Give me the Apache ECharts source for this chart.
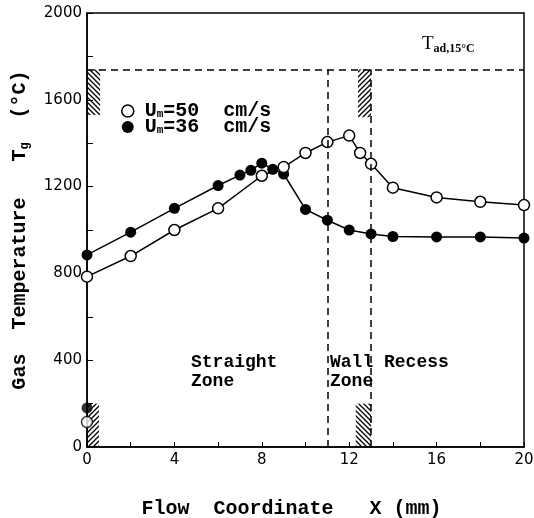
<!DOCTYPE html>
<html>
<head>
<meta charset="utf-8">
<script src="https://cdn.jsdelivr.net/npm/echarts@6/dist/echarts.min.js"></script>
<style>
  html, body { margin: 0; padding: 0; background: #fff; }
  #main { width: 534px; height: 518px; }
</style>
</head>
<body>
<div id="main"></div>
<script>
// flow coordinate (mm) and gas temperature (degC)
var xOpen = [0, 2, 4, 6, 8, 9, 10, 11, 12, 12.5, 13, 14, 16, 18, 20];
var tOpen = [785, 880, 1000, 1100, 1250, 1290, 1355, 1405, 1435, 1355, 1305, 1195, 1150, 1130, 1115];
var xFilled = [0, 2, 4, 6, 7, 7.5, 8, 8.5, 9, 10, 11, 12, 13, 14, 16, 18, 20];
var tFilled = [885, 990, 1100, 1205, 1253, 1275, 1308, 1280, 1258, 1095, 1045, 1000, 982, 970, 968, 968, 963];
// inlet temperatures
var inletOpen = [0, 115];
var inletFilled = [0, 180];
// adiabatic flame temperature and zone borders
var tAd = 1740;
var zoneX = [11, 13];
var xTicks = [0, 4, 8, 12, 16, 20];
var yTicks = [0, 400, 800, 1200, 1600, 2000];

function zip(xs, ys) {
    return xs.map(function (x, i) { return [x, ys[i]]; });
}

function hatch(dir) {
    var c = document.createElement('canvas');
    c.width = 5; c.height = 5;
    var g = c.getContext('2d');
    g.strokeStyle = '#000';
    g.lineWidth = 1.3;
    g.beginPath();
    if (dir > 0) {
        g.moveTo(-1, 6); g.lineTo(6, -1);
        g.moveTo(-3, 3); g.lineTo(3, -3);
        g.moveTo(2, 8); g.lineTo(8, 2);
    } else {
        g.moveTo(-1, -1); g.lineTo(6, 6);
        g.moveTo(-3, 2); g.lineTo(3, 8);
        g.moveTo(2, -3); g.lineTo(8, 3);
    }
    g.stroke();
    return { image: c, repeat: 'repeat' };
}
var hatchUp = hatch(1), hatchDown = hatch(-1);

var chart = echarts.init(document.getElementById('main'));
var mono = '"Liberation Mono", monospace';

var option = {
    backgroundColor: '#fff',
    animation: false,
    grid: {
        left: 87, right: 10, top: 13, bottom: 71,
        outerBoundsMode: 'none', containLabel: false,
        show: true, borderColor: '#000', borderWidth: 1.5, backgroundColor: 'transparent'
    },
    legend: {
        orient: 'vertical',
        left: 116, top: 96,
        itemWidth: 12, itemHeight: 12, itemGap: -4,
        data: [
            { name: 'U50', icon: 'circle', itemStyle: { color: '#fff', borderColor: '#000', borderWidth: 1.5 } },
            { name: 'U36', icon: 'circle', itemStyle: { color: '#000' } }
        ],
        formatter: function (n) {
            return n === 'U50' ? '{a|U}{b|m}{a|=50  cm/s}' : '{a|U}{b|m}{a|=36  cm/s}';
        },
        textStyle: {
            padding: [0, 0, 0, 6],
            rich: {
                a: { fontFamily: mono, fontSize: 20, color: '#000', fontWeight: 'bold', lineHeight: 17 },
                b: { fontFamily: mono, fontSize: 11, color: '#000', fontWeight: 'bold', lineHeight: 8, verticalAlign: 'bottom' }
            }
        }
    },
    xAxis: {
        type: 'value', min: 0, max: 20, interval: 2,
        name: 'Flow  Coordinate   X (mm)',
        nameLocation: 'middle', nameGap: 52,
        nameTextStyle: { fontFamily: mono, fontSize: 20, color: '#000', fontWeight: 'bold', padding: [0, 28, 0, 0] },
        axisLine: { lineStyle: { color: '#000', width: 1.5 } },
        axisTick: { inside: true, length: 5, lineStyle: { color: '#000' } },
        axisLabel: {
            color: '#000', fontFamily: 'DejaVu Sans', fontSize: 15, margin: 6,
            formatter: function (v) { return xTicks.indexOf(v) >= 0 ? v : ''; }
        },
        splitLine: { show: false }
    },
    yAxis: {
        type: 'value', min: 0, max: 2000, interval: 200,
        name: '{a|Gas  Temperature   T}{b|g}{a|  (°C)}',
        nameLocation: 'middle', nameGap: 56,
        nameTextStyle: {
            rich: {
                a: { fontFamily: mono, fontSize: 20, color: '#000', fontWeight: 'bold' },
                b: { fontFamily: mono, fontSize: 12, color: '#000', fontWeight: 'bold', padding: [10, 0, 0, 0] }
            }
        },
        axisLine: { lineStyle: { color: '#000', width: 1.5 } },
        axisTick: { inside: true, length: 6, lineStyle: { color: '#000' } },
        axisLabel: {
            color: '#000', fontFamily: 'DejaVu Sans', fontSize: 15, margin: 5,
            formatter: function (v) { return yTicks.indexOf(v) >= 0 ? v : ''; }
        },
        splitLine: { show: false }
    },
    graphic: [
        { type: 'text', left: 422, top: 35, style: { rich: {
            a: { fontFamily: 'Liberation Serif', fontSize: 19, fill: '#000' },
            b: { fontFamily: 'Liberation Serif', fontSize: 12, fill: '#000', fontWeight: 'bold', padding: [8, 0, 0, 0] }
        }, text: '{a|T}{b|ad,15°C}' } },
        { type: 'text', left: 191, top: 353, style: { text: 'Straight\nZone', font: 'bold 18px "Liberation Mono"', fill: '#000', lineHeight: 19 } },
        { type: 'text', left: 330, top: 353, style: { text: 'Wall Recess\nZone', font: 'bold 18px "Liberation Mono"', fill: '#000', lineHeight: 19 } }
    ],
    series: [
        {
            name: 'U36', type: 'line', data: zip(xFilled, tFilled),
            symbol: 'circle', symbolSize: 11, clip: false,
            lineStyle: { color: '#000', width: 1.5 },
            itemStyle: { color: '#000' },
            markLine: {
                silent: true, symbol: 'none', label: { show: false },
                lineStyle: { color: '#000', type: [7, 5], width: 1.5 },
                data: [
                    [{ coord: [0, tAd] }, { coord: [20, tAd] }],
                    [{ coord: [zoneX[0], 0] }, { coord: [zoneX[0], tAd] }],
                    [{ coord: [zoneX[1], 0] }, { coord: [zoneX[1], tAd] }]
                ]
            },
            markArea: {
                silent: true,
                data: [
                    [{ coord: [0, 1530], itemStyle: { color: hatchDown } }, { coord: [0.6, tAd] }],
                    [{ coord: [12.4, 1520], itemStyle: { color: hatchUp } }, { coord: [13, tAd] }],
                    [{ coord: [0, 0], itemStyle: { color: hatchUp } }, { coord: [0.55, 200] }],
                    [{ coord: [12.3, 0], itemStyle: { color: hatchDown } }, { coord: [13, 200] }]
                ]
            }
        },
        {
            name: 'U50', type: 'line', data: zip(xOpen, tOpen),
            symbol: 'circle', symbolSize: 11, clip: false,
            lineStyle: { color: '#000', width: 1.5 },
            itemStyle: { color: '#fff', borderColor: '#000', borderWidth: 1.5 }
        },
        {
            name: 'U36', type: 'scatter', data: [inletFilled],
            symbol: 'circle', symbolSize: 11, clip: false,
            itemStyle: { color: '#000' }
        },
        {
            name: 'U50', type: 'scatter', data: [inletOpen],
            symbol: 'circle', symbolSize: 11, clip: false,
            itemStyle: { color: '#fff', borderColor: '#000', borderWidth: 1.5 }
        }
    ]
};
chart.setOption(option);
</script>
</body>
</html>
